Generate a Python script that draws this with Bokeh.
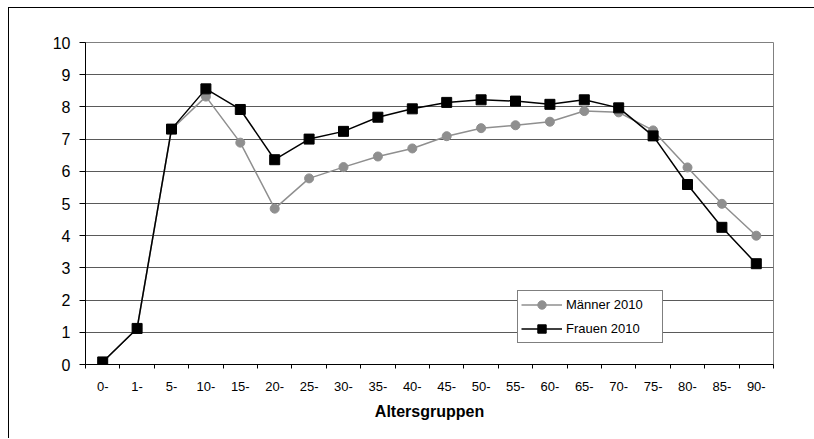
from bokeh.plotting import figure
from bokeh.models import FixedTicker, Legend, LegendItem, Range1d
from bokeh.embed import file_html
from bokeh.resources import INLINE

categories = ["0-", "1-", "5-", "10-", "15-", "20-", "25-", "30-", "35-", "40-",
              "45-", "50-", "55-", "60-", "65-", "70-", "75-", "80-", "85-", "90-"]
maenner_2010 = [0.08, 1.12, 7.30, 8.32, 6.89, 4.84, 5.78, 6.13, 6.46, 6.71,
                7.09, 7.34, 7.43, 7.54, 7.87, 7.83, 7.27, 6.12, 4.99, 4.00]
frauen_2010 = [0.08, 1.12, 7.31, 8.56, 7.92, 6.36, 7.00, 7.24, 7.68, 7.94,
               8.14, 8.22, 8.18, 8.08, 8.22, 7.97, 7.10, 5.59, 4.26, 3.13]
y_ticks = [0, 1, 2, 3, 4, 5, 6, 7, 8, 9, 10]
x_title = "Altersgruppen"
series_names = ["Männer 2010", "Frauen 2010"]

FONT = "Liberation Sans"
n = len(categories)
xs = list(range(n))

p = figure(width=806, height=431, output_backend="svg", toolbar_location=None,
           x_range=Range1d(-0.5, n - 0.5), y_range=Range1d(0, 10))
p.min_border_left = 76
p.min_border_right = 42
p.min_border_top = 34
p.min_border_bottom = 75
p.background_fill_color = "white"
p.border_fill_color = "white"
p.outline_line_color = "#808080"
p.outline_line_width = 1
p.styles = {"margin-left": "8px", "margin-top": "7px",
            "border-left": "1px solid black", "border-top": "1px solid black"}

# grid
p.xgrid.visible = False
p.ygrid.grid_line_color = "#5a5a5a"
p.ygrid.grid_line_width = 1
p.ygrid.ticker = FixedTicker(ticks=y_ticks)

# y axis
p.yaxis.ticker = FixedTicker(ticks=y_ticks)
p.yaxis.axis_line_color = "black"
p.yaxis.major_tick_line_color = "black"
p.yaxis.major_tick_out = 6
p.yaxis.major_tick_in = 0
p.yaxis.minor_tick_line_color = None
p.yaxis.major_label_text_font = FONT
p.yaxis.major_label_text_font_size = "16px"
p.yaxis.major_label_text_color = "black"
p.yaxis.major_label_standoff = 9

# x axis: labels at centers, ticks at boundaries (minor ticks)
p.xaxis.ticker = FixedTicker(ticks=xs, minor_ticks=[i - 0.5 for i in range(n + 1)])
p.xaxis.major_label_overrides = {i: c for i, c in enumerate(categories)}
p.xaxis.major_tick_out = 0
p.xaxis.major_tick_in = 0
p.xaxis.minor_tick_out = 4
p.xaxis.minor_tick_in = 0
p.xaxis.minor_tick_line_color = "black"
p.xaxis.axis_line_color = "black"
p.xaxis.major_label_text_font = FONT
p.xaxis.major_label_text_font_size = "13px"
p.xaxis.major_label_text_color = "black"
p.xaxis.major_label_standoff = 13
p.xaxis.axis_label = x_title
p.xaxis.axis_label_text_font = FONT
p.xaxis.axis_label_text_font_size = "16px"
p.xaxis.axis_label_text_font_style = "bold"
p.xaxis.axis_label_text_color = "black"
p.xaxis.axis_label_standoff = 9

# series
gray = "#8f8f8f"
m_line = p.line(xs, maenner_2010, line_color=gray, line_width=1.5)
m_pts = p.scatter(xs, maenner_2010, marker="circle", size=9, fill_color=gray,
                  line_color=gray)
f_line = p.line(xs, frauen_2010, line_color="black", line_width=1.5)
f_pts = p.scatter(xs, frauen_2010, marker="square", size=10, fill_color="black",
                  line_color="black")

legend = Legend(items=[LegendItem(label=series_names[0], renderers=[m_line, m_pts]),
                       LegendItem(label=series_names[1], renderers=[f_line, f_pts])],
                location=(432, 21))
legend.glyph_width = 41
legend.glyph_height = 21
legend.label_height = 21
legend.label_width = 93
legend.spacing = 3
legend.padding = 3
legend.margin = 0
legend.label_standoff = 4
legend.label_text_font = FONT
legend.label_text_font_size = "13px"
legend.label_text_color = "black"
legend.border_line_color = "black"
legend.border_line_width = 1
legend.background_fill_color = "white"
legend.background_fill_alpha = 1
p.add_layout(legend, "center")

open("out.html", "w").write(file_html(p, INLINE))
